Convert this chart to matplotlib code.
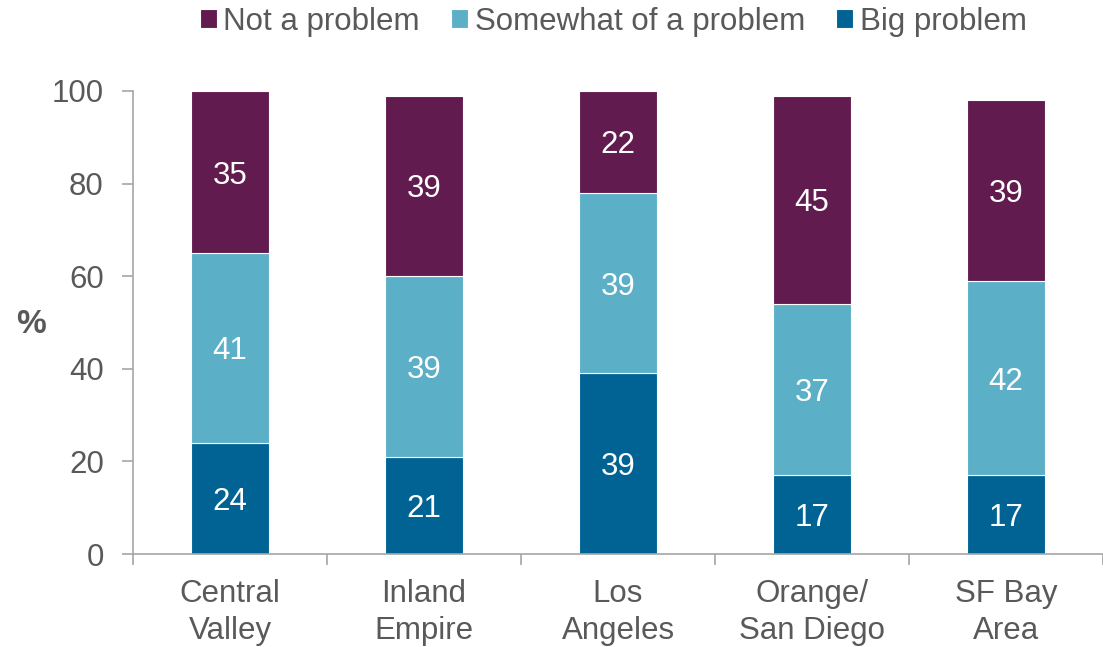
import matplotlib.pyplot as plt
import numpy as np

plt.rcParams['font.family'] = ['Liberation Sans', 'DejaVu Sans']

# --- data ---
regions = ['Central\nValley', 'Inland\nEmpire', 'Los\nAngeles', 'Orange/\nSan Diego', 'SF Bay\nArea']
big_problem = [24, 21, 39, 17, 17]
somewhat = [41, 39, 39, 37, 42]
not_problem = [35, 39, 22, 45, 39]

series_names = ['Big problem', 'Somewhat of a problem', 'Not a problem']
colors = ['#006394', '#5BAFC7', '#621B4F']
text_gray = '#595959'
axis_gray = '#A6A6A6'

fig = plt.figure(figsize=(11.03, 6.47), dpi=100)
ax = fig.add_axes([0.1206, 0.1437, 0.8794, 0.7157])

x = np.arange(len(regions))
bottom = np.zeros(len(regions))
handles = {}
for name, vals, col in zip(series_names, [big_problem, somewhat, not_problem], colors):
    vals = np.array(vals)
    bars = ax.bar(x, vals, width=0.4, bottom=bottom, color=col,
                  edgecolor='white', linewidth=0.8)
    handles[name] = bars
    for xi, b, v in zip(x, bottom, vals):
        ax.text(xi, b + v / 2, str(v), ha='center', va='center_baseline',
                color='white', fontsize=22.5)
    bottom += vals

ax.set_xlim(-0.5, len(regions) - 0.5)
ax.set_ylim(0, 100)
ax.set_yticks(range(0, 101, 20))
ax.set_xticks(x)
ax.set_xticklabels(regions, fontsize=22.5, color=text_gray, linespacing=1.3)
ax.set_xticks(np.arange(-0.5, len(regions)), minor=True)
ax.tick_params(axis='x', which='major', length=0, pad=18)
ax.tick_params(axis='x', which='minor', length=8, color=axis_gray, width=1.2)
ax.tick_params(axis='y', length=8, color=axis_gray, width=1.2,
               labelsize=22.5, labelcolor=text_gray, pad=13)

for s in ['top', 'right']:
    ax.spines[s].set_visible(False)
for s in ['left', 'bottom']:
    ax.spines[s].set_color(axis_gray)
    ax.spines[s].set_linewidth(1.2)

ax.set_ylabel('%', rotation=0, fontsize=24, fontweight='bold',
              color=text_gray, va='center', ha='center')
ax.yaxis.set_label_coords(-0.105, 0.495)

order = ['Not a problem', 'Somewhat of a problem', 'Big problem']
fig.legend([handles[n] for n in order], order, loc='upper center',
           bbox_to_anchor=(0.556, 1.033), ncol=3, frameon=False,
           fontsize=22.5, labelcolor=text_gray, handlelength=0.55,
           handleheight=0.55, handletextpad=0.2, columnspacing=1.0)

fig.savefig('out.png', dpi=100)
